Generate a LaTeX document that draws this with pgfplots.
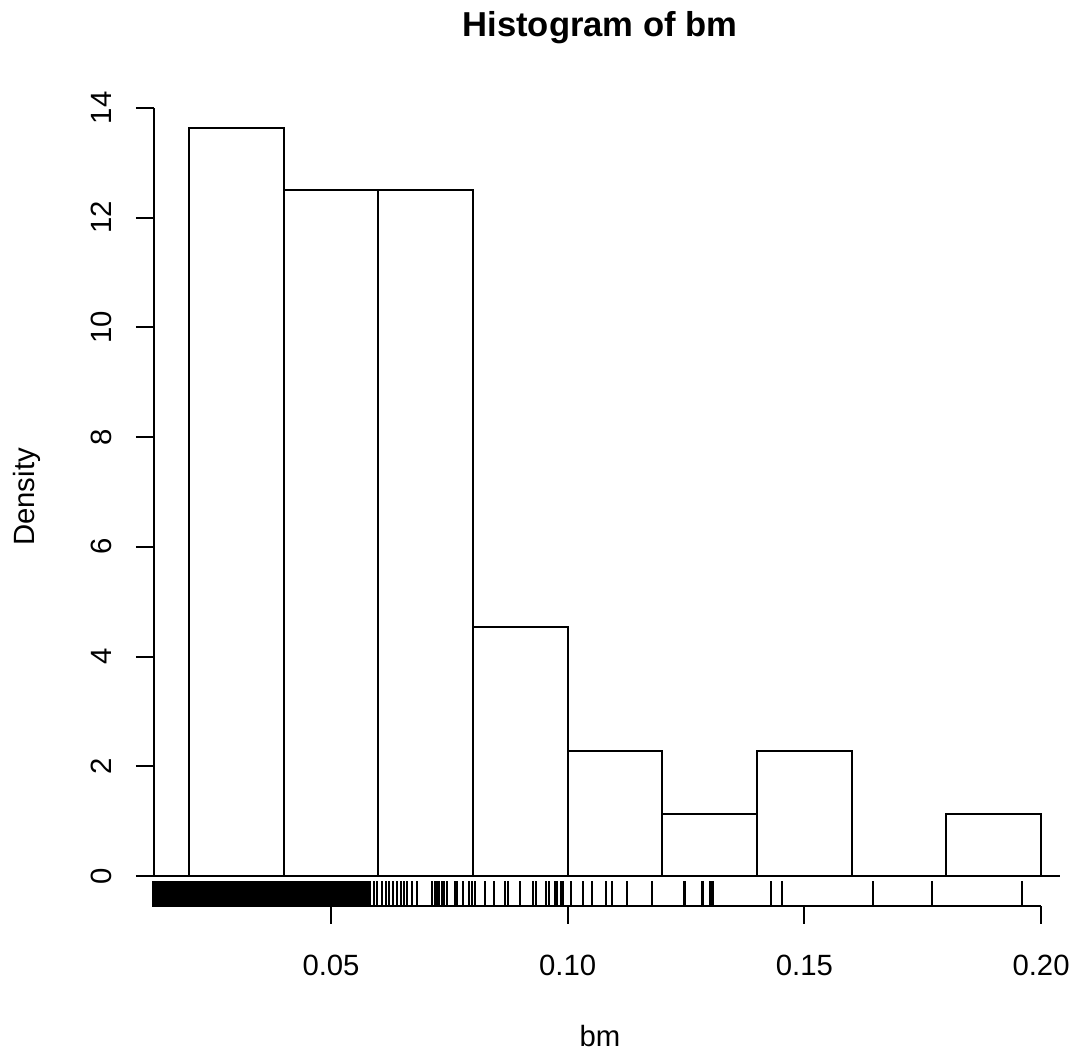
\documentclass[border=0pt]{standalone}
\usepackage{fontspec}
\setmainfont{Liberation Sans}
\usepackage{pgfplots}
\pgfplotsset{compat=1.18}
\begin{document}
\begin{tikzpicture}
\useasboundingbox (-77pt,-76.5pt) rectangle (459.5pt,453pt);
\begin{axis}[
  scale only axis, width=453pt, height=404pt,
  xmin=0.0126, xmax=0.2040, ymin=-0.5455, ymax=14.18,
  axis lines*=left,
  axis line style={draw=none},
  tick align=outside, major tick length=9pt,
  tick style={black, line width=1pt},
  xtick={0.05,0.10,0.15,0.20}, xticklabels={0.05,0.10,0.15,0.20},
  ytick={0,2,4,6,8,10,12,14}, yticklabels={0,2,4,6,8,10,12,14},
  every tick label/.append style={font=\fontsize{14.65}{17}\selectfont},
  xticklabel style={anchor=base, inner sep=0pt, yshift=-26pt},
  yticklabel style={rotate=90, anchor=base, inner sep=0pt, yshift=12pt},
  clip=false,
]
\addplot[ybar interval, fill=white, draw=black, line width=1pt] coordinates {
(0.02,13.636) (0.04,12.5) (0.06,12.5) (0.08,4.545) (0.10,2.273)
(0.12,1.136) (0.14,2.273) (0.16,0) (0.18,1.136) (0.20,1.136)};
\addplot[only marks, black, line width=1.05pt, mark=|, mark size=6.5pt, mark options={line width=1.05pt, black}]
 table[row sep=\\, x=x, y expr=-0.328] {x\\
0.0125\\0.0129\\0.0133\\0.0137\\0.0141\\0.0145\\0.0149\\0.0153\\0.0157\\0.0161\\
0.0165\\0.0169\\0.0173\\0.0177\\0.0181\\0.0185\\0.0189\\0.0193\\0.0197\\0.0201\\
0.0205\\0.0209\\0.0213\\0.0217\\0.0221\\0.0225\\0.0229\\0.0233\\0.0237\\0.0241\\
0.0245\\0.0249\\0.0253\\0.0257\\0.0261\\0.0265\\0.0269\\0.0273\\0.0277\\0.0281\\
0.0285\\0.0289\\0.0293\\0.0297\\0.0301\\0.0305\\0.0309\\0.0313\\0.0317\\0.0321\\
0.0325\\0.0329\\0.0333\\0.0337\\0.0341\\0.0345\\0.0349\\0.0353\\0.0357\\0.0361\\
0.0365\\0.0369\\0.0373\\0.0377\\0.0381\\0.0385\\0.0389\\0.0393\\0.0397\\0.0401\\
0.0405\\0.0409\\0.0413\\0.0417\\0.0421\\0.0425\\0.0429\\0.0433\\0.0437\\0.0441\\
0.0445\\0.0449\\0.0453\\0.0457\\0.0461\\0.0465\\0.0469\\0.0473\\0.0477\\0.0481\\
0.0485\\0.0489\\0.0493\\0.0497\\0.0501\\0.0505\\0.0509\\0.0513\\0.0517\\0.0521\\
0.0525\\0.0529\\0.0533\\0.0537\\0.0541\\0.0545\\0.0549\\0.0553\\0.0557\\0.0561\\
0.0565\\0.0569\\0.0573\\0.0577\\
0.05823\\0.05907\\0.05970\\0.06076\\0.06160\\0.06224\\0.06308\\0.06392\\0.06477\\0.06540\\
0.06603\\0.06709\\0.06814\\0.07131\\0.07194\\0.07236\\0.07278\\0.07342\\0.07384\\0.07447\\
0.07616\\0.07658\\0.07785\\0.07911\\0.07975\\0.08038\\0.08249\\0.08439\\0.08671\\0.08734\\
0.08987\\0.09262\\0.09325\\0.09536\\0.09599\\0.09726\\0.09768\\0.09852\\0.09895\\0.10063\\
0.10316\\0.10506\\0.10802\\0.10928\\0.11245\\0.11772\\0.12468\\0.12848\\0.13017\\0.13059\\
0.14304\\0.14536\\0.16456\\0.17700\\0.19599\\
};
\draw[line width=1pt] (axis cs:0.0126,0) -- (axis cs:0.2040,0);
\draw[line width=1pt] (axis cs:0.0125,-0.5455) -- (axis cs:0.20,-0.5455);
\draw[line width=1pt] (axis cs:0.0126,0) -- (axis cs:0.0126,14);
\end{axis}
\node[anchor=base, font=\fontsize{17.3}{20}\selectfont\bfseries] at (223pt,434.5pt) {Histogram of bm};
\node[anchor=base, font=\fontsize{14.65}{17}\selectfont] at (223pt,-70.5pt) {bm};
\node[rotate=90, anchor=base, font=\fontsize{14.65}{17}\selectfont] at (-59.5pt,204.5pt) {Density};
\end{tikzpicture}
\end{document}
